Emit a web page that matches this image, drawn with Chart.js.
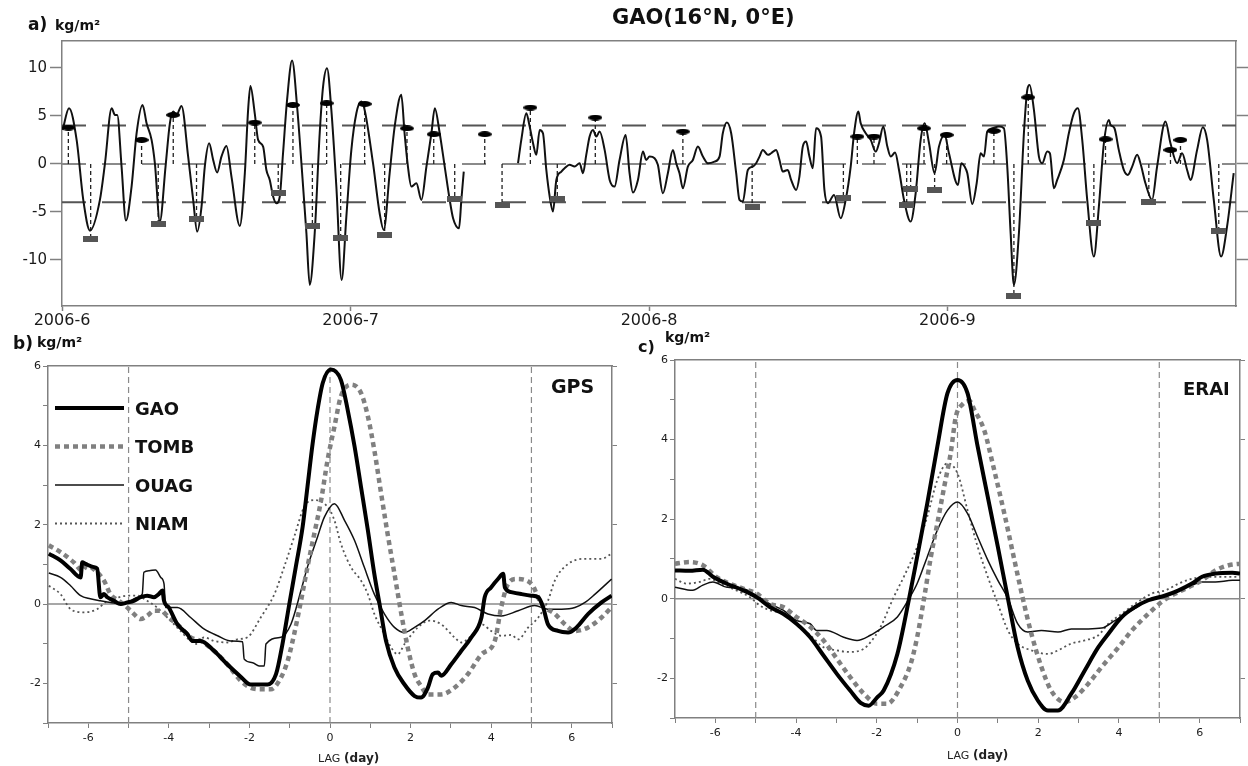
<!DOCTYPE html>
<html>
<head>
<meta charset="utf-8">
<title>GAO IWV composites</title>
<script src="https://cdn.jsdelivr.net/npm/chart.js@4.4.1/dist/chart.umd.min.js"></script>
<style>
    body { margin: 0; width: 1248px; height: 766px; position: relative; overflow: hidden; background: #fff;
           font-family: "DejaVu Sans", sans-serif; }
    .panel { position: absolute; }
    .lbl { position: absolute; line-height: 1; white-space: nowrap; font-weight: bold; color: #111; }
    .axt { position: absolute; line-height: 1; white-space: nowrap; font-size: 12px; color: #222; }
    .axt span { font-size: 11px; }
</style>
</head>
<body>

<div class="panel" style="left:0;top:0"><canvas id="chart-a" width="1248" height="330"></canvas></div>
<div class="panel" style="left:0;top:330px"><canvas id="chart-b" width="630" height="436"></canvas></div>
<div class="panel" style="left:630px;top:330px"><canvas id="chart-c" width="618" height="436"></canvas></div>

<div class="lbl" style="left:28px;top:16px;font-size:17px">a)</div>
<div class="lbl" style="left:55px;top:18px;font-size:14px">kg/m²</div>
<div class="lbl" style="left:612px;top:7px;font-size:21px">GAO(16°N, 0°E)</div>
<div class="lbl" style="left:13px;top:335px;font-size:17px">b)</div>
<div class="lbl" style="left:37px;top:335px;font-size:14px">kg/m²</div>
<div class="lbl" style="left:638px;top:339px;font-size:16px">c)</div>
<div class="lbl" style="left:665px;top:330px;font-size:14px">kg/m²</div>
<div class="lbl" style="left:551px;top:377px;font-size:19px">GPS</div>
<div class="lbl" style="left:1183px;top:380px;font-size:18px">ERAI</div>
<div class="axt" style="left:318px;top:752px"><span>LAG</span> <b>(day)</b></div>
<div class="axt" style="left:947px;top:749px"><span>LAG</span> <b>(day)</b></div>

<script>
// GAO IWV anomaly: time series (a) and lag composites GPS (b) / ERA-Interim (c)

const FONT = 'DejaVu Sans';

// ── Panel a data ──────────────────────────────────────────────────────
// x = days since 2006-06-01

const MONTH_TICKS = [0, 30, 61, 92];
const MONTH_LABELS = ['2006-6', '2006-7', '2006-8', '2006-9'];
const IWV_TICKS = [-10, -5, 0, 5, 10];
const THRESHOLDS = [4, 0, -4];

const GPS_DAYS = [
    0.07, 0.73, 1.52, 2.21, 2.91, 3.94, 4.46, 5.16, 5.50, 5.74, 6.19, 6.64, 7.23, 7.75, 8.37, 8.79,
    9.31, 9.65, 10.17, 10.76, 11.21, 11.56, 11.90, 12.42, 13.11, 13.63, 14.05, 14.50, 14.84, 15.29,
    15.71, 16.12, 16.57, 17.09, 17.61, 18.48, 19.00, 19.34, 19.58, 20.03, 20.38, 20.90, 21.24, 21.59,
    21.94, 22.28, 22.63, 22.97, 23.39, 23.91, 24.46, 24.88, 25.40, 25.74, 26.26, 26.78, 27.13, 27.54,
    27.99, 28.51, 29.06, 29.55, 30.07, 30.59, 31.10, 31.45, 32.32, 33.01, 33.43, 34.05, 34.57, 35.26,
    35.60, 35.95, 36.30, 36.83, 37.35, 37.87, 38.39, 38.74, 39.25, 39.77, 40.29, 40.64, 41.26, 41.50,
    41.75, 44.50,
    47.39, 47.73, 48.25, 48.60, 48.95, 49.29, 49.64, 49.98, 50.33, 50.68, 51.02, 51.37, 51.89, 52.23,
    52.75, 53.27, 53.79, 54.14, 54.48, 54.83, 55.18, 55.52, 55.87, 56.39, 56.91, 57.42, 57.94, 58.57,
    58.98, 59.33, 59.85, 60.37, 60.71, 61.06, 61.58, 61.92, 62.44, 62.96, 63.48, 63.83, 64.17, 64.52,
    65.04, 65.56, 66.08, 66.60, 67.12, 67.81, 68.33, 68.67, 69.09, 69.54, 70.06, 70.40, 70.75, 71.27,
    71.79, 72.13, 72.48, 72.83, 73.35, 73.69, 74.21, 74.56, 74.90, 75.42, 75.77, 76.29, 76.63, 76.98,
    77.33, 77.67, 78.02, 78.36, 78.88, 79.23, 79.58, 80.23, 80.92, 81.44, 81.96, 82.31, 82.76, 83.00,
    83.52, 84.04, 84.56, 84.90, 85.35, 85.77, 86.12, 86.57, 86.98, 87.50, 88.19, 88.71, 89.23, 89.65,
    90.10, 90.68, 91.13, 91.72, 92.17, 93.11, 93.45, 93.80, 94.08, 94.59, 95.05, 95.46, 95.81, 96.15,
    96.67, 97.36, 97.88, 98.23, 98.58, 98.92, 99.44, 99.96, 100.31, 100.55, 101.00, 101.52, 101.86,
    102.38, 102.66, 103.07, 103.42, 104.11, 104.63, 105.15, 105.57, 106.02, 106.54, 107.23, 107.75,
    108.27, 108.79, 108.96, 109.37, 109.82, 110.34, 110.76, 111.21, 111.73, 112.07, 112.59, 113.28,
    113.80, 114.67, 115.19, 115.88, 116.40, 116.92, 117.27, 117.96, 118.55, 119.00, 119.69, 120.45,
    121.07, 121.76
];
const GPS_IWV = [
    3.54, 5.80, 2.50, -3.75, -6.95, -3.75, 0.00, 5.80, 5.10, 5.10, -0.28, -5.90, -2.36, 3.19, 6.14, 4.23,
    2.50, 0.07, -6.00, -0.28, 4.23, 5.45, 5.10, 6.04, 0.76, -3.75, -7.05, -4.45, -0.28, 2.15,
    0.41, -0.90, 0.76, 1.87, -1.32, -6.46, -0.97, 5.62, 8.12, 5.27, 2.50, 1.80, -0.63, -1.67,
    -3.40, -4.10, -3.40, 1.11, 6.66, 10.76, 5.62, 0.07, -7.22, -12.60, -7.22, 3.19, 8.05, 9.96,
    5.62, -2.36, -12.08, -5.49, 1.46, 5.27, 6.49, 5.62, 0.07, -5.14, -6.88, -0.97, 3.89, 7.19,
    3.19, -0.28, -2.36, -2.02, -3.75, -0.28, 3.19, 5.80, 3.19, -0.28, -3.75, -5.66, -6.70, -3.75,
    -0.80, null,
    0.07, 2.50, 5.27, 3.89, 2.15, 0.94, 3.54, 3.19, -0.63, -3.40, -4.97, -1.67, -0.80, -0.45,
    -0.10, -0.28, 0.07, -0.97, 0.94, 2.85, 3.54, 2.85, 3.37, 1.46, -1.67, -2.36, 0.41, 3.02,
    -0.97, -2.99, -1.67, 1.28, 0.41, 0.76, 0.59, -0.10, -3.06, -0.97, 1.46, 0.07, -0.97, -2.54,
    -0.28, 0.41, 1.80, 0.76, 0.07, 0.24, 0.76, 3.19, 4.30, 3.19, -0.97, -3.75, -3.92, -0.63,
    -0.28, 0.07, 0.76, 1.46, 0.94, 1.11, 1.46, 0.41, -0.80, -0.63, -1.67, -2.71, -1.32, 1.80,
    2.33, 0.76, -0.45, 3.71, 2.85, -2.71, -4.10, -3.23, -5.66, -3.75, -0.28, 3.19, 5.45, 4.23,
    3.19, 2.50, 1.28, 2.15, 3.89, 1.80, 0.76, 1.18, -0.63, -3.75, -6.01, -3.06, 2.50, 4.23,
    2.15, -0.97, 1.80, 3.02, 1.11, -2.19, 0.07, -0.28, -0.97, -4.17, -2.02, 1.11, 0.76, 3.37,
    3.71, 3.89, 3.71, -0.28, -7.22, -12.60, -7.22, 3.19, 7.71, 8.23, 5.62, 0.76, 0.07,
    1.28, 1.11, -2.54, -1.67, 0.41, 3.19, 5.27, 5.80, 2.50, -3.75, -9.65, -4.45,
    2.15, 4.58, 4.06, 3.71, 1.46, -0.63, -1.15, -0.28, 0.94, 0.07, -2.02, -3.75,
    -0.28, 4.41, 2.15, 0.07, 1.11, -0.63, -1.67, 1.46, 3.82, 2.50, -3.75, -9.65,
    -6.53, -0.97
];

// wet events (ellipses) and dry events (bars)
const PEAK_DAYS = [0.66, 8.27, 11.56, 20.03, 24.0, 27.5, 31.45, 35.85, 38.63, 43.93, 48.67,
    55.42, 64.52, 82.65, 84.38, 89.58, 91.93, 96.84, 100.41, 108.44, 115.19, 116.23];
const PEAK_IWV = [3.78, 2.5, 5.1, 4.3, 6.14, 6.32, 6.25, 3.7, 3.09, 3.09, 5.87,
    4.83, 3.37, 2.85, 2.85, 3.71, 3.02, 3.44, 6.94, 2.57, 1.46, 2.5];
const TROUGH_DAYS = [2.98, 10.0, 13.98, 22.47, 26.02, 28.96, 33.53, 40.81, 45.73, 51.47,
    71.72, 81.2, 87.78, 88.19, 90.68, 98.92, 107.23, 112.94, 120.21];
const TROUGH_IWV = [-7.85, -6.28, -5.73, -3.06, -6.46, -7.67, -7.40, -3.65, -4.27, -3.68,
    -4.51, -3.58, -4.27, -2.61, -2.71, -13.8, -6.18, -3.99, -6.95];

// ── Panels b, c data ──────────────────────────────────────────────────

const LAG_TICKS = [-7, -6, -5, -4, -3, -2, -1, 0, 1, 2, 3, 4, 5, 6, 7];
const LAG_LABELS = [-6, -4, -2, 0, 2, 4, 6];
const ANOM_TICKS = [-3, -2, -1, 0, 1, 2, 3, 4, 5, 6];
const ANOM_LABELS = [-2, 0, 2, 4, 6];
const LAG_MARKS = [-5, 0, 5];
const STATIONS = ['GAO', 'TOMB', 'OUAG', 'NIAM'];

// [lag (day), anomaly (kg/m²)]
const GPS_GAO = [
    [-6.98, 1.27], [-6.69, 1.10], [-6.44, 0.88], [-6.19, 0.67], [-6.15, 1.05], [-6.07, 1.01], [-5.86, 0.93],
    [-5.78, 0.89], [-5.70, 0.17], [-5.61, 0.25], [-5.53, 0.17], [-5.36, 0.08], [-5.20, 0.00], [-5.03, 0.04],
    [-4.87, 0.08], [-4.70, 0.17], [-4.54, 0.21], [-4.37, 0.17], [-4.25, 0.25], [-4.16, 0.34], [-4.12, 0.08],
    [-4.00, -0.09], [-3.79, -0.51], [-3.54, -0.76], [-3.42, -0.93], [-3.21, -0.93], [-2.88, -1.18],
    [-2.55, -1.52], [-2.21, -1.84], [-1.97, -2.03], [-1.55, -2.03], [-1.34, -1.77], [-1.18, -1.01],
    [-1.01, 0.00], [-0.85, 0.93], [-0.68, 1.94], [-0.56, 2.95], [-0.43, 4.05], [-0.31, 4.89], [-0.18, 5.57],
    [0.02, 5.91], [0.27, 5.65], [0.44, 4.89], [0.61, 3.97], [0.77, 2.95], [0.94, 1.86], [1.10, 0.76],
    [1.23, 0.00], [1.39, -0.93], [1.60, -1.60], [1.85, -2.03], [2.10, -2.32], [2.26, -2.36], [2.43, -2.11],
    [2.55, -1.77], [2.68, -1.73], [2.76, -1.81], [3.01, -1.52], [3.26, -1.18], [3.51, -0.84], [3.76, -0.34],
    [3.84, 0.17], [4.00, 0.42], [4.17, 0.63], [4.30, 0.76], [4.34, 0.42], [4.50, 0.30], [4.75, 0.25],
    [5.00, 0.21], [5.17, 0.17], [5.29, -0.08], [5.41, -0.51], [5.66, -0.68], [5.91, -0.72], [6.12, -0.59],
    [6.41, -0.25], [6.74, 0.04], [6.99, 0.21]
];
const GPS_TOMB = [
    [-6.98, 1.48], [-6.69, 1.31], [-6.36, 1.05], [-6.15, 0.84], [-6.03, 0.97], [-5.82, 0.84], [-5.61, 0.59],
    [-5.45, 0.25], [-5.24, 0.08], [-5.03, -0.09], [-4.87, -0.25], [-4.70, -0.38], [-4.54, -0.30],
    [-4.37, -0.17], [-4.20, -0.17], [-4.00, -0.34], [-3.71, -0.59], [-3.46, -0.84], [-3.21, -0.93],
    [-2.88, -1.18], [-2.55, -1.52], [-2.21, -1.94], [-1.97, -2.11], [-1.72, -2.15], [-1.47, -2.15],
    [-1.22, -1.86], [-1.05, -1.43], [-0.89, -0.76], [-0.72, 0.08], [-0.56, 0.93], [-0.39, 1.77],
    [-0.22, 2.62], [-0.06, 3.63], [0.11, 4.47], [0.27, 5.23], [0.52, 5.53], [0.77, 5.32], [0.94, 4.73],
    [1.10, 3.88], [1.27, 2.78], [1.43, 1.77], [1.60, 0.76], [1.77, -0.25], [1.93, -1.10], [2.10, -1.77],
    [2.26, -2.07], [2.43, -2.28], [2.76, -2.28], [3.09, -2.11], [3.42, -1.77], [3.76, -1.27], [4.09, -0.93],
    [4.25, -0.08], [4.42, 0.51], [4.63, 0.63], [5.00, 0.51], [5.25, 0.00], [5.58, -0.25], [5.83, -0.51],
    [6.08, -0.68], [6.41, -0.59], [6.74, -0.34], [6.99, -0.08]
];
const GPS_OUAG = [
    [-6.98, 0.78], [-6.69, 0.67], [-6.44, 0.46], [-6.19, 0.21], [-5.95, 0.13], [-5.70, 0.08], [-5.45, 0.04],
    [-5.20, 0.00], [-4.95, 0.08], [-4.78, 0.17], [-4.66, 0.25], [-4.62, 0.80], [-4.49, 0.84], [-4.33, 0.86],
    [-4.20, 0.67], [-4.12, 0.51], [-4.08, -0.09], [-3.79, -0.09], [-3.46, -0.34], [-3.13, -0.63],
    [-2.79, -0.80], [-2.46, -0.93], [-2.17, -0.95], [-2.13, -1.39], [-1.92, -1.48], [-1.76, -1.56],
    [-1.63, -1.56], [-1.59, -1.01], [-1.22, -0.84], [-0.97, -0.51], [-0.72, 0.34], [-0.56, 0.93],
    [-0.31, 1.69], [-0.14, 2.19], [0.11, 2.53], [0.36, 2.11], [0.61, 1.60], [0.85, 0.93], [1.10, 0.25],
    [1.35, -0.25], [1.60, -0.59], [1.85, -0.72], [2.10, -0.59], [2.35, -0.42], [2.68, -0.13], [3.01, 0.04],
    [3.26, -0.04], [3.59, -0.09], [3.92, -0.25], [4.25, -0.30], [4.67, -0.17], [5.08, -0.04], [5.41, -0.13],
    [5.75, -0.13], [6.08, -0.09], [6.33, 0.04], [6.58, 0.25], [6.99, 0.63]
];
const GPS_NIAM = [
    [-6.98, 0.46], [-6.69, 0.25], [-6.44, -0.13], [-6.11, -0.21], [-5.78, -0.13], [-5.53, 0.08], [-5.24, 0.17],
    [-5.03, 0.21], [-4.78, 0.21], [-4.54, 0.08], [-4.29, -0.09], [-4.04, -0.34], [-3.71, -0.68], [-3.46, -0.93],
    [-3.29, -1.01], [-3.13, -0.84], [-2.88, -0.93], [-2.55, -0.97], [-2.30, -0.89], [-2.05, -0.84],
    [-1.72, -0.34], [-1.38, 0.25], [-1.14, 0.93], [-0.89, 1.69], [-0.64, 2.45], [-0.39, 2.62], [-0.06, 2.45],
    [0.11, 2.11], [0.27, 1.52], [0.52, 0.93], [0.77, 0.59], [0.94, 0.25], [1.10, -0.25], [1.35, -0.76],
    [1.52, -1.10], [1.68, -1.27], [1.85, -1.01], [2.18, -0.59], [2.47, -0.42], [2.76, -0.51], [3.09, -0.84],
    [3.26, -0.97], [3.51, -0.80], [3.76, -0.51], [4.00, -0.68], [4.25, -0.80], [4.50, -0.78], [4.67, -0.89],
    [4.92, -0.59], [5.17, -0.34], [5.41, 0.08], [5.58, 0.59], [5.91, 1.01], [6.33, 1.14], [6.74, 1.14],
    [6.99, 1.27]
];

const ERAI_GAO = [
    [-7.00, 0.71], [-6.64, 0.70], [-6.31, 0.73], [-6.06, 0.55], [-5.73, 0.38], [-5.31, 0.21], [-4.98, 0.04],
    [-4.65, -0.21], [-4.32, -0.38], [-3.99, -0.63], [-3.65, -0.97], [-3.32, -1.43], [-2.99, -1.89],
    [-2.66, -2.31], [-2.40, -2.62], [-2.20, -2.69], [-1.99, -2.48], [-1.83, -2.31], [-1.49, -1.39],
    [-1.20, 0.00], [-1.00, 1.05], [-0.75, 2.39], [-0.50, 3.82], [-0.25, 5.16], [0.00, 5.50], [0.25, 5.16],
    [0.50, 3.82], [0.75, 2.56], [1.00, 1.30], [1.25, 0.00], [1.49, -1.22], [1.74, -2.06], [1.99, -2.56],
    [2.24, -2.81], [2.49, -2.81], [2.82, -2.39], [3.15, -1.81], [3.49, -1.22], [3.74, -0.88], [4.07, -0.46],
    [4.40, -0.21], [4.73, -0.04], [5.15, 0.08], [5.48, 0.21], [5.81, 0.38], [6.06, 0.55], [6.39, 0.63],
    [6.81, 0.65], [7.00, 0.63]
];
const ERAI_TOMB = [
    [-7.00, 0.88], [-6.64, 0.92], [-6.31, 0.84], [-5.98, 0.55], [-5.65, 0.38], [-5.31, 0.25], [-4.98, 0.13],
    [-4.65, -0.13], [-4.32, -0.21], [-3.99, -0.46], [-3.65, -0.71], [-3.32, -1.05], [-2.99, -1.51],
    [-2.66, -1.97], [-2.32, -2.39], [-1.99, -2.64], [-1.74, -2.64], [-1.41, -2.22], [-1.16, -1.64],
    [-1.00, -0.97], [-0.83, 0.00], [-0.66, 1.05], [-0.50, 1.89], [-0.33, 2.81], [-0.17, 3.65], [-0.04, 4.58],
    [0.12, 4.88], [0.30, 4.97], [0.42, 4.74], [0.66, 4.24], [0.91, 3.23], [1.16, 2.14], [1.41, 0.97],
    [1.62, 0.00], [1.83, -0.88], [2.08, -1.72], [2.32, -2.31], [2.66, -2.60], [2.91, -2.48], [3.24, -2.14],
    [3.57, -1.72], [3.99, -1.22], [4.32, -0.80], [4.73, -0.38], [5.06, -0.08], [5.40, 0.13], [5.73, 0.29],
    [6.06, 0.46], [6.39, 0.71], [6.72, 0.84], [7.00, 0.88]
];
const ERAI_OUAG = [
    [-7.00, 0.29], [-6.56, 0.21], [-6.31, 0.34], [-6.06, 0.42], [-5.73, 0.29], [-5.31, 0.25], [-4.98, 0.08],
    [-4.65, -0.13], [-4.32, -0.29], [-3.99, -0.55], [-3.65, -0.63], [-3.49, -0.80], [-3.24, -0.80],
    [-2.82, -0.97], [-2.49, -1.05], [-2.16, -0.92], [-1.83, -0.71], [-1.49, -0.46], [-1.20, 0.00],
    [-1.00, 0.38], [-0.75, 1.05], [-0.50, 1.72], [-0.25, 2.22], [0.00, 2.43], [0.25, 2.14], [0.50, 1.55],
    [0.75, 0.97], [1.00, 0.46], [1.25, 0.00], [1.49, -0.63], [1.74, -0.84], [2.08, -0.80], [2.49, -0.84],
    [2.82, -0.76], [3.24, -0.76], [3.57, -0.74], [3.90, -0.55], [4.32, -0.29], [4.73, -0.04], [5.15, 0.08],
    [5.48, 0.21], [5.81, 0.34], [6.06, 0.42], [6.39, 0.42], [6.81, 0.46], [7.00, 0.46]
];
const ERAI_NIAM = [
    [-7.00, 0.50], [-6.72, 0.38], [-6.39, 0.42], [-6.14, 0.50], [-5.81, 0.34], [-5.48, 0.21], [-5.15, 0.04],
    [-4.90, -0.17], [-4.65, -0.29], [-4.32, -0.38], [-3.99, -0.63], [-3.65, -0.92], [-3.32, -1.22],
    [-2.99, -1.30], [-2.66, -1.34], [-2.32, -1.26], [-2.16, -1.10], [-1.91, -0.72], [-1.58, 0.04],
    [-1.33, 0.55], [-1.00, 1.30], [-0.75, 2.06], [-0.50, 2.98], [-0.25, 3.40], [0.00, 3.15], [0.25, 2.22],
    [0.50, 1.30], [0.75, 0.55], [1.00, -0.13], [1.25, -0.80], [1.49, -1.13], [1.83, -1.30], [2.24, -1.39],
    [2.49, -1.30], [2.82, -1.13], [3.15, -1.05], [3.49, -0.92], [3.74, -0.63], [4.07, -0.38], [4.40, -0.13],
    [4.82, 0.13], [5.15, 0.21], [5.48, 0.38], [5.81, 0.50], [6.14, 0.55], [6.48, 0.55], [7.00, 0.55]
];

// ── Helpers ───────────────────────────────────────────────────────────

const AXIS_GREY = '#808080';

const pts = (xs, ys) => xs.map((x, i) => ({ x, y: ys[i] }));
const pairs = (list) => list.map(([x, y]) => ({ x, y }));
const stems = (xs, ys) => xs.flatMap((x, i) => [{ x, y: 0 }, { x, y: ys[i] }, { x, y: null }]);

function markerImage(w, h, color, shape) {
    const c = document.createElement('canvas');
    c.width = w;
    c.height = h;
    const g = c.getContext('2d');
    g.fillStyle = color;
    if (shape === 'ellipse') {
        g.beginPath();
        g.ellipse(w / 2, h / 2, w / 2, h / 2, 0, 0, Math.PI * 2);
        g.fill();
    } else {
        g.fillRect(0, 0, w, h);
    }
    return c;
}

function frameAxis(position, size, extra) {
    return Object.assign({
        position,
        afterFit: (s) => { if (s.isHorizontal()) s.height = size; else s.width = size; },
        ticks: { display: false },
        grid: { drawOnChartArea: false, drawTicks: false },
        border: { color: AXIS_GREY, width: 1.5 },
    }, extra);
}

// ── Panel a ───────────────────────────────────────────────────────────

function initSeriesChart() {
    const ellipse = markerImage(14, 6, '#000', 'ellipse');
    const bar = markerImage(15, 6, '#555', 'rect');

    const datasets = [
        { label: 'wet', data: pts(PEAK_DAYS, PEAK_IWV), showLine: false, pointStyle: ellipse, pointRadius: 6 },
        { label: 'dry', data: pts(TROUGH_DAYS, TROUGH_IWV), showLine: false, pointStyle: bar, pointRadius: 6 },
        {
            label: 'GPS IWV', data: pts(GPS_DAYS, GPS_IWV), borderColor: '#111', borderWidth: 2,
            pointRadius: 0, cubicInterpolationMode: 'monotone',
        },
        {
            label: 'stems', data: [...stems(PEAK_DAYS, PEAK_IWV), ...stems(TROUGH_DAYS, TROUGH_IWV)],
            borderColor: '#222', borderWidth: 1.3, borderDash: [4, 3], pointRadius: 0,
        },
        ...THRESHOLDS.map(t => ({
            label: `level ${t}`, data: [{ x: 0, y: t }, { x: 122, y: t }],
            borderColor: t === 0 ? '#8a8a8a' : '#555', borderWidth: 2, borderDash: [24, 16], pointRadius: 0,
        })),
    ];

    new Chart(document.getElementById('chart-a'), {
        type: 'line',
        data: { datasets },
        options: {
            responsive: false,
            animation: false,
            events: [],
            layout: { padding: { top: 41, left: 0, right: 0, bottom: 0 } },
            plugins: { legend: { display: false }, tooltip: { enabled: false } },
            scales: {
                x: {
                    type: 'linear', min: 0, max: 122, position: 'bottom',
                    afterFit: (s) => { s.height = 24; },
                    afterBuildTicks: (s) => { s.ticks = MONTH_TICKS.map(v => ({ value: v })); },
                    ticks: {
                        autoSkip: false, maxRotation: 0, padding: 0, color: '#1a1a1a',
                        font: { family: FONT, size: 16 },
                        callback: (v) => MONTH_LABELS[MONTH_TICKS.indexOf(v)],
                    },
                    grid: { drawOnChartArea: false, tickLength: 5, color: AXIS_GREY, tickWidth: 1.5 },
                    border: { color: AXIS_GREY, width: 1.5 },
                },
                x2: frameAxis('top', 0, { type: 'linear', min: 0, max: 122 }),
                y: {
                    min: -14.8, max: 12.8,
                    afterFit: (s) => { s.width = 62; },
                    afterBuildTicks: (s) => { s.ticks = IWV_TICKS.map(v => ({ value: v })); },
                    ticks: { padding: 3, color: '#1a1a1a', font: { family: FONT, size: 15 } },
                    grid: { drawOnChartArea: false, tickLength: 12, color: AXIS_GREY, tickWidth: 1.5 },
                    border: { color: AXIS_GREY, width: 1.5 },
                },
                y2: {
                    position: 'right', min: -14.8, max: 12.8,
                    afterFit: (s) => { s.width = 12; },
                    afterBuildTicks: (s) => { s.ticks = IWV_TICKS.map(v => ({ value: v })); },
                    ticks: { display: false },
                    grid: { drawOnChartArea: false, tickLength: 12, color: AXIS_GREY, tickWidth: 1.5 },
                    border: { color: AXIS_GREY, width: 1.5 },
                },
            },
        },
    });
}

// ── Panels b, c ───────────────────────────────────────────────────────

const STATION_STYLES = [
    { borderColor: '#000', borderWidth: 4 },
    { borderColor: '#808080', borderWidth: 4.5, borderDash: [5, 4] },
    { borderColor: '#111', borderWidth: 1.5 },
    { borderColor: '#555', borderWidth: 1.8, borderDash: [2, 3] },
];

// line-sample legend drawn inside the plot, one row per station
const stationLegend = {
    id: 'stationLegend',
    afterDatasetsDraw(chart, args, opts) {
        if (!opts.display) return;
        const { ctx } = chart;
        ctx.save();
        STATIONS.forEach((name, i) => {
            const ds = chart.data.datasets[i];
            const y = opts.top + i * opts.step;
            ctx.beginPath();
            ctx.setLineDash(ds.borderDash || []);
            ctx.lineWidth = ds.borderWidth;
            ctx.strokeStyle = ds.borderColor;
            ctx.moveTo(opts.x0, y);
            ctx.lineTo(opts.x1, y);
            ctx.stroke();
            ctx.setLineDash([]);
            ctx.fillStyle = '#111';
            ctx.font = `bold 18px "${FONT}"`;
            ctx.textBaseline = 'alphabetic';
            ctx.fillText(name, opts.textX, y + 6.5);
        });
        ctx.restore();
    },
};

function initLagChart(canvasId, series, box, showLegend) {
    const datasets = series.map((s, i) => Object.assign({
        label: STATIONS[i], data: pairs(s), pointRadius: 0, cubicInterpolationMode: 'monotone',
    }, STATION_STYLES[i]));
    datasets.push({
        label: 'zero', data: [{ x: -7, y: 0 }, { x: 7, y: 0 }],
        borderColor: '#8a8a8a', borderWidth: 1.5, pointRadius: 0,
    });
    datasets.push({
        label: 'marks', data: LAG_MARKS.flatMap(x => [{ x, y: -3 }, { x, y: 6 }, { x, y: null }]),
        borderColor: '#8a8a8a', borderWidth: 1.2, borderDash: [6, 4], pointRadius: 0,
    });

    const tickFont = { family: FONT, size: 11 };

    new Chart(document.getElementById(canvasId), {
        type: 'line',
        data: { datasets },
        plugins: [stationLegend],
        options: {
            responsive: false,
            animation: false,
            events: [],
            layout: { padding: { top: box.top, left: 0, right: 0, bottom: 0 } },
            plugins: {
                legend: { display: false },
                tooltip: { enabled: false },
                stationLegend: { display: showLegend, x0: 55, x1: 124, textX: 135, top: 78, step: 38.5 },
            },
            scales: {
                x: {
                    type: 'linear', min: -7, max: 7, position: 'bottom',
                    afterFit: (s) => { s.height = box.bottom; },
                    afterBuildTicks: (s) => { s.ticks = LAG_TICKS.map(v => ({ value: v })); },
                    ticks: {
                        autoSkip: false, maxRotation: 0, padding: 4, color: '#1a1a1a', font: tickFont,
                        callback: (v) => (LAG_LABELS.includes(v) ? String(v) : ''),
                    },
                    grid: { drawOnChartArea: false, tickLength: 5, color: AXIS_GREY },
                    border: { color: AXIS_GREY, width: 1.5 },
                },
                x2: frameAxis('top', 0, { type: 'linear', min: -7, max: 7 }),
                y: {
                    min: -3, max: 6,
                    afterFit: (s) => { s.width = box.left; },
                    afterBuildTicks: (s) => { s.ticks = ANOM_TICKS.map(v => ({ value: v })); },
                    ticks: {
                        padding: 2, color: '#1a1a1a', font: tickFont,
                        callback: (v) => (ANOM_LABELS.includes(v) ? String(v) : ''),
                    },
                    grid: { drawOnChartArea: false, tickLength: 5, color: AXIS_GREY },
                    border: { color: AXIS_GREY, width: 1.5 },
                },
                y2: {
                    position: 'right', min: -3, max: 6,
                    afterFit: (s) => { s.width = box.right; },
                    afterBuildTicks: (s) => { s.ticks = ANOM_LABELS.map(v => ({ value: v })); },
                    ticks: { display: false },
                    grid: { drawOnChartArea: false, tickLength: 5, color: AXIS_GREY },
                    border: { color: AXIS_GREY, width: 1.5 },
                },
            },
        },
    });
}

// ── Init ──────────────────────────────────────────────────────────────

initSeriesChart();
initLagChart('chart-b', [GPS_GAO, GPS_TOMB, GPS_OUAG, GPS_NIAM],
    { left: 48, right: 18, top: 36, bottom: 43 }, true);
initLagChart('chart-c', [ERAI_GAO, ERAI_TOMB, ERAI_OUAG, ERAI_NIAM],
    { left: 45, right: 8, top: 30, bottom: 48 }, false);
</script>
</body>
</html>
